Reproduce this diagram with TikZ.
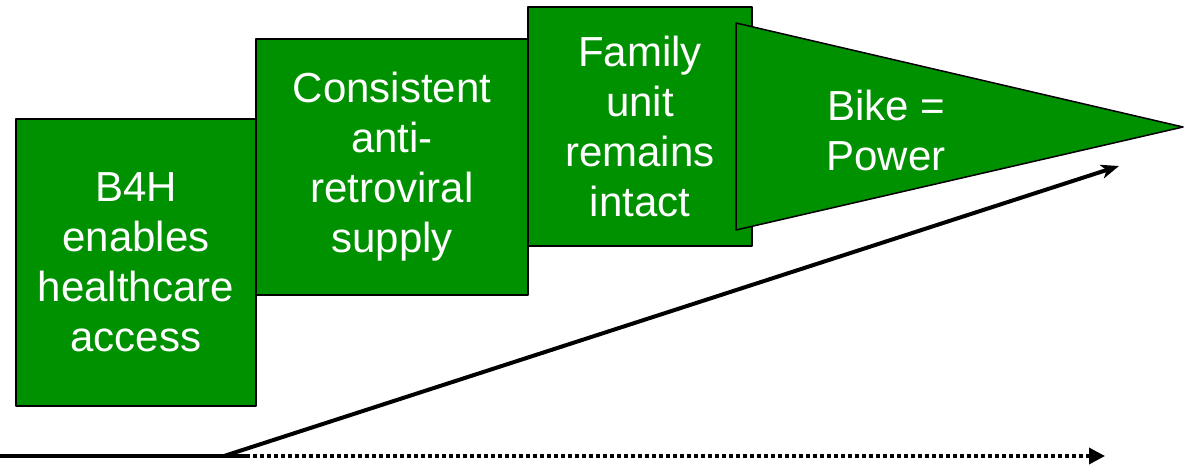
\documentclass[tikz,border=0pt]{standalone}
\usepackage{fontspec}
\setmainfont{Liberation Sans}
\usetikzlibrary{arrows.meta}
\definecolor{leaf}{RGB}{0,145,0}
\tikzset{
  stage/.style={draw=black,line width=1.5pt,fill=leaf,text=white,align=center,
    inner sep=0pt,font=\fontsize{42}{50}\selectfont},
  track/.style={line width=4pt,line cap=butt}
}
\begin{document}
\begin{tikzpicture}[x=1pt,y=-1pt,line join=round]
	\useasboundingbox (0,0) rectangle (1190,464);
	\def\ya{456} \def\xb{224} \def\xf{246}
	% steps
	\node[stage,minimum width=240pt,minimum height=287pt] (access) at (136,262.5) {B4H\\enables\\healthcare\\access};
	\node[stage,minimum width=272pt,minimum height=256pt] (supply) at (392,167) {Consistent\\anti-\\retroviral\\supply};
	\node[stage,minimum width=224pt,minimum height=239pt] (family) at (640,126.5) {Family\\unit\\remains\\intact};
	% pennant
	\draw[line width=1.5pt,fill=leaf] (736,23) -- (1183,127) -- (736,230) -- cycle;
	\node[text=white,align=center,font=\fontsize{42}{50}\selectfont] (bike) at (886,130) {Bike =\\Power};
	% growth lines
	\coordinate (start) at (0,\ya);
	\coordinate (bend) at (\xb,\ya);
	\coordinate (fork) at (\xf,\ya);
	\coordinate (rise) at (1119,166);
	\coordinate (flat) at (1105,\ya);
	\draw[track] (start) -- (fork);
	\draw[track,-{Stealth[length=18pt,width=14pt,inset=5pt]}] (bend) -- (rise);
	\draw[track,line width=3.5pt,dash pattern=on 3.5pt off 3.5pt,-{Triangle[length=16pt,width=16pt]}] (fork) -- (flat);
\end{tikzpicture}
\end{document}
